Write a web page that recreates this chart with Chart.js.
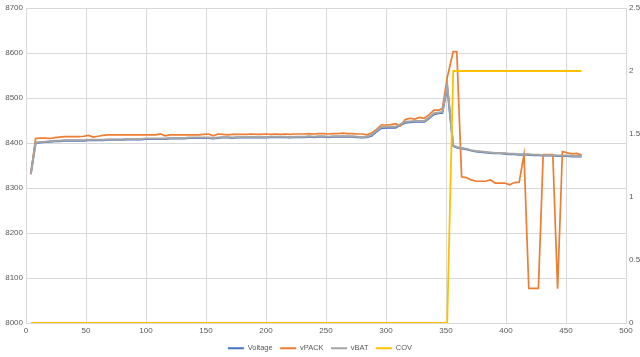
<!DOCTYPE html>
<html>
<head>
<meta charset="utf-8">
<script src="https://cdn.jsdelivr.net/npm/chart.js@4"></script>
<style>
html,body{margin:0;padding:0;background:#fff;}
#wrap{width:640px;height:357px;position:relative;}
</style>
</head>
<body>
<div id="wrap"><canvas id="c" width="640" height="357"></canvas></div>
<script>
const xValues = [
  4,8,12,16,20,24,28,32,36,40,44,48,52,56,60,64,68,72,76,80,
  84,88,92,96,100,104,108,112,116,120,124,128,132,136,140,144,148,152,156,160,
  164,168,172,176,180,184,188,192,196,200,204,208,212,216,220,224,228,232,236,240,
  244,248,252,256,260,264,268,272,276,280,284,288,292,296,300,304,308,312,316,320,
  324,328,332,336,340,344,347,351,356,359,363,367,371,375,379,383,387,391,395,399,
  403,407,411,415,419,423,427,431,435,439,443,447,451,455,459,463
];
const voltage = [
  8331,8400,8401,8402,8403,8404,8404,8405,8405,8405,8405,8405,8406,8406,8406,8406,8407,8407,8407,8407,
  8408,8408,8408,8408,8409,8409,8409,8409,8409,8410,8410,8410,8410,8411,8411,8411,8411,8411,8410,8411,
  8412,8412,8411,8412,8412,8412,8413,8412,8412,8412,8413,8413,8413,8413,8412,8413,8413,8413,8414,8413,
  8414,8414,8413,8414,8414,8414,8414,8414,8413,8412,8413,8416,8425,8433,8434,8434,8434,8440,8445,8446,
  8447,8447,8447,8455,8464,8466,8467,8525,8393,8390,8388,8386,8383,8381,8380,8379,8378,8377,8377,8376,
  8375,8375,8374,8374,8374,8373,8373,8372,8372,8372,8371,8371,8371,8370,8370,8370
];
const vPACK = [
  8331,8410,8411,8411,8410,8412,8413,8414,8414,8414,8414,8415,8417,8413,8415,8417,8418,8418,8418,8418,
  8418,8418,8418,8418,8418,8418,8418,8420,8416,8418,8418,8418,8418,8418,8418,8418,8419,8420,8416,8420,
  8419,8418,8419,8419,8419,8419,8420,8419,8419,8420,8419,8420,8419,8420,8419,8420,8420,8420,8421,8420,
  8421,8421,8420,8421,8421,8422,8421,8421,8420,8420,8418,8422,8430,8440,8440,8441,8443,8438,8452,8455,
  8453,8457,8455,8463,8473,8473,8477,8545,8603,8603,8325,8323,8318,8315,8315,8315,8318,8311,8311,8311,
  8307,8312,8313,8374,8077,8077,8077,8374,8374,8374,8076,8381,8378,8376,8377,8373
];
const vBAT = [
  8331,8401,8402,8403,8404,8405,8405,8406,8406,8406,8406,8406,8407,8407,8407,8407,8408,8408,8408,8408,
  8409,8409,8409,8409,8410,8410,8410,8410,8410,8411,8411,8411,8411,8412,8412,8412,8412,8412,8411,8412,
  8413,8413,8412,8413,8413,8413,8414,8413,8413,8413,8414,8414,8414,8414,8413,8414,8414,8414,8415,8414,
  8415,8415,8414,8415,8415,8415,8415,8415,8414,8413,8414,8418,8427,8435,8436,8436,8436,8442,8447,8448,
  8449,8449,8449,8457,8466,8468,8469,8529,8394,8391,8389,8387,8384,8382,8381,8380,8379,8378,8378,8377,
  8376,8376,8375,8375,8375,8374,8374,8373,8373,8373,8372,8372,8372,8371,8371,8371
];
const cov = [
  0,0,0,0,0,0,0,0,0,0,0,0,0,0,0,0,0,0,0,0,
  0,0,0,0,0,0,0,0,0,0,0,0,0,0,0,0,0,0,0,0,
  0,0,0,0,0,0,0,0,0,0,0,0,0,0,0,0,0,0,0,0,
  0,0,0,0,0,0,0,0,0,0,0,0,0,0,0,0,0,0,0,0,
  0,0,0,0,0,0,0,0,2,2,2,2,2,2,2,2,2,2,2,2,
  2,2,2,2,2,2,2,2,2,2,2,2,2,2,2,2
];
const seriesNames = ['Voltage','vPACK','vBAT','COV'];
const xTicks = [0,50,100,150,200,250,300,350,400,450,500];
const leftTicks = [8000,8100,8200,8300,8400,8500,8600,8700];
const rightTicks = [0,0.5,1,1.5,2,2.5];

function pts(ys){ return xValues.map((x,i)=>({x:x,y:ys[i]})); }

const FONT = {family:'"Liberation Sans", Arial, sans-serif', size:8};
const TXT = '#595959';
const GRID = '#d9d9d9';

new Chart(document.getElementById('c'), {
  type:'line',
  data:{
    datasets:[
      {label:seriesNames[0], data:pts(voltage), borderColor:'#4472C4', backgroundColor:'#4472C4', borderWidth:2, pointRadius:0, yAxisID:'y', order:4, tension:0},
      {label:seriesNames[1], data:pts(vPACK), borderColor:'#ED7D31', backgroundColor:'#ED7D31', borderWidth:1.7, pointRadius:0, yAxisID:'y', order:3, tension:0},
      {label:seriesNames[2], data:pts(vBAT), borderColor:'#A5A5A5', backgroundColor:'#A5A5A5', borderWidth:2, pointRadius:0, yAxisID:'y', order:2, tension:0},
      {label:seriesNames[3], data:pts(cov), borderColor:'#FFC000', backgroundColor:'#FFC000', borderWidth:1.8, pointRadius:0, yAxisID:'y2', order:1, tension:0}
    ]
  },
  options:{
    responsive:false,
    animation:false,
    layout:{padding:{top:8,left:0,right:0,bottom:-5}},
    plugins:{
      tooltip:{enabled:false},
      legend:{
        position:'bottom',
        labels:{
          font:{family:FONT.family,size:7.5},
          color:TXT,
          boxWidth:16,
          boxHeight:2,
          padding:7.5,
          generateLabels(chart){
            return chart.data.datasets.map((d,i)=>({
              text:d.label, fillStyle:d.borderColor, strokeStyle:d.borderColor,
              lineWidth:0, hidden:false, datasetIndex:i, fontColor:TXT
            }));
          }
        }
      }
    },
    scales:{
      x:{
        type:'linear', min:0, max:500,
        afterBuildTicks(s){ s.ticks = xTicks.map(v=>({value:v})); },
        afterFit(s){ s.height = 14; },
        grid:{color:GRID, drawTicks:false, lineWidth:1},
        border:{display:false},
        ticks:{font:FONT, color:TXT, padding:3, maxRotation:0, callback:v=>String(v)}
      },
      y:{
        type:'linear', position:'left', min:8000, max:8700,
        afterBuildTicks(s){ s.ticks = leftTicks.map(v=>({value:v})); },
        afterFit(s){ s.width = 26; },
        grid:{color:GRID, drawTicks:false, lineWidth:1},
        border:{display:false},
        ticks:{font:FONT, color:TXT, padding:3, callback:v=>String(v)}
      },
      y2:{
        type:'linear', position:'right', min:0, max:2.5,
        afterBuildTicks(s){ s.ticks = rightTicks.map(v=>({value:v})); },
        afterFit(s){ s.width = 14; },
        grid:{display:false, drawTicks:false},
        border:{display:true, color:GRID},
        ticks:{font:FONT, color:TXT, padding:3, callback:v=>String(v)}
      }
    }
  }
});
</script>
</body>
</html>
